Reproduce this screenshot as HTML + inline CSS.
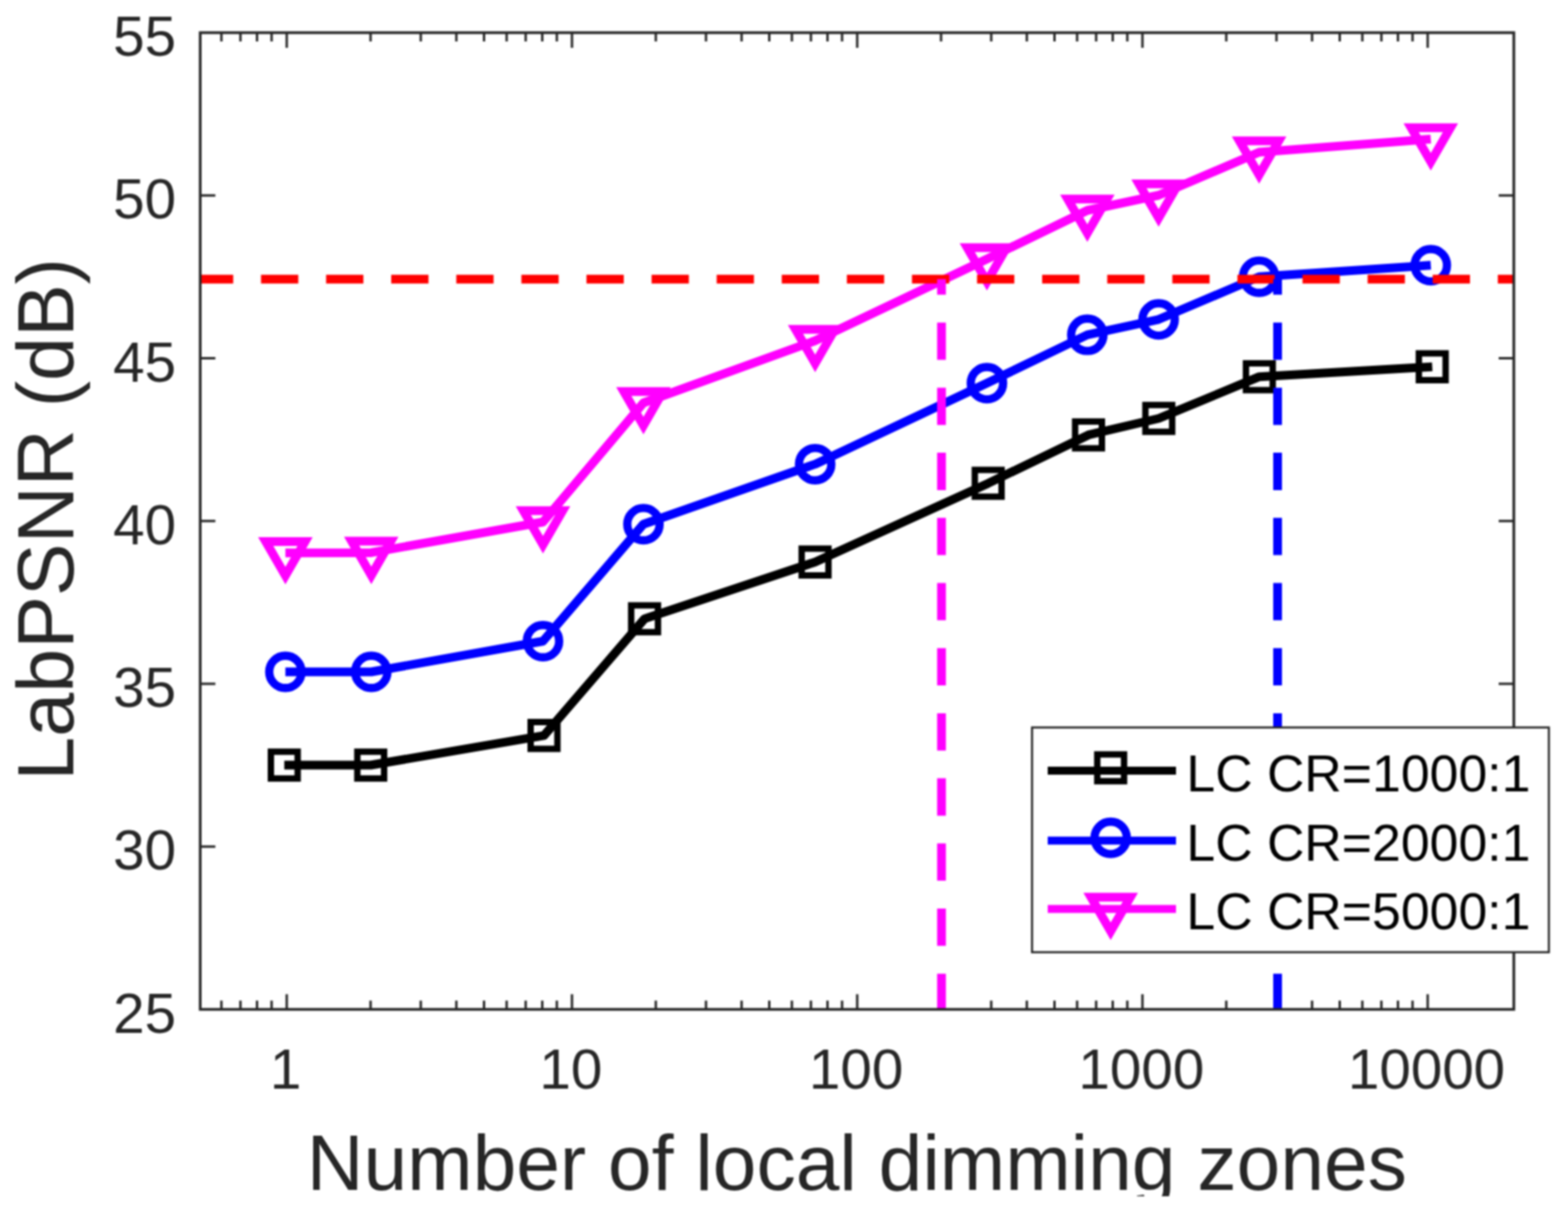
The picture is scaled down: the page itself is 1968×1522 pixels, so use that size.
<!DOCTYPE html>
<html><head><meta charset="utf-8"><title>LabPSNR vs local dimming zones</title>
<style>html,body{margin:0;padding:0;background:#fff;}body{width:1968px;height:1522px;overflow:hidden;}svg{display:block;filter:blur(0.8px);}</style>
</head><body>
<svg width="1968" height="1522" viewBox="0 0 1968 1522">
<rect x="0" y="0" width="1968" height="1522" fill="#ffffff"/>
<path d="M359.9 1266.5V1247.5M359.9 41V60M717.9 1266.5V1247.5M717.9 41V60M1075.9 1266.5V1247.5M1075.9 41V60M1433.9 1266.5V1247.5M1433.9 41V60M1791.9 1266.5V1247.5M1791.9 41V60M277.9 1266.5V1255.5M277.9 41V52M301.8 1266.5V1255.5M301.8 41V52M322.6 1266.5V1255.5M322.6 41V52M340.9 1266.5V1255.5M340.9 41V52M465.1 1266.5V1255.5M465.1 41V52M528.1 1266.5V1255.5M528.1 41V52M572.8 1266.5V1255.5M572.8 41V52M607.5 1266.5V1255.5M607.5 41V52M635.9 1266.5V1255.5M635.9 41V52M659.8 1266.5V1255.5M659.8 41V52M680.6 1266.5V1255.5M680.6 41V52M698.9 1266.5V1255.5M698.9 41V52M823.1 1266.5V1255.5M823.1 41V52M886.1 1266.5V1255.5M886.1 41V52M930.8 1266.5V1255.5M930.8 41V52M965.5 1266.5V1255.5M965.5 41V52M993.9 1266.5V1255.5M993.9 41V52M1017.8 1266.5V1255.5M1017.8 41V52M1038.6 1266.5V1255.5M1038.6 41V52M1056.9 1266.5V1255.5M1056.9 41V52M1181.1 1266.5V1255.5M1181.1 41V52M1244.1 1266.5V1255.5M1244.1 41V52M1288.8 1266.5V1255.5M1288.8 41V52M1323.5 1266.5V1255.5M1323.5 41V52M1351.9 1266.5V1255.5M1351.9 41V52M1375.8 1266.5V1255.5M1375.8 41V52M1396.6 1266.5V1255.5M1396.6 41V52M1414.9 1266.5V1255.5M1414.9 41V52M1539.1 1266.5V1255.5M1539.1 41V52M1602.1 1266.5V1255.5M1602.1 41V52M1646.8 1266.5V1255.5M1646.8 41V52M1681.5 1266.5V1255.5M1681.5 41V52M1709.9 1266.5V1255.5M1709.9 41V52M1733.8 1266.5V1255.5M1733.8 41V52M1754.6 1266.5V1255.5M1754.6 41V52M1772.9 1266.5V1255.5M1772.9 41V52M251.3 1062.2H270.3M1900 1062.2H1881M251.3 858.0H270.3M1900 858.0H1881M251.3 653.8H270.3M1900 653.8H1881M251.3 449.5H270.3M1900 449.5H1881M251.3 245.2H270.3M1900 245.2H1881" stroke="#262626" stroke-width="3" fill="none"/>
<polyline points="356.8,960.0 465.3,960.0 682.8,922.8 809.0,776.4 1023.0,705.2 1240.3,606.4 1366.2,545.7 1454.4,525.0 1580.6,472.7 1797.6,460.2" fill="none" stroke="#000000" stroke-width="11" stroke-linejoin="round" stroke-linecap="butt"/>
<g fill="none" stroke="#000000"><rect x="340.0" y="943.2" width="33.6" height="33.6" stroke-width="8"/><rect x="448.5" y="943.2" width="33.6" height="33.6" stroke-width="8"/><rect x="666.0" y="906.0" width="33.6" height="33.6" stroke-width="8"/><rect x="792.2" y="759.6" width="33.6" height="33.6" stroke-width="8"/><rect x="1006.2" y="688.4" width="33.6" height="33.6" stroke-width="8"/><rect x="1223.5" y="589.6" width="33.6" height="33.6" stroke-width="8"/><rect x="1349.4" y="528.9" width="33.6" height="33.6" stroke-width="8"/><rect x="1437.6" y="508.2" width="33.6" height="33.6" stroke-width="8"/><rect x="1563.8" y="455.9" width="33.6" height="33.6" stroke-width="8"/><rect x="1780.8" y="443.4" width="33.6" height="33.6" stroke-width="8"/></g>
<polyline points="358.2,843.0 466.0,843.0 681.5,804.5 807.6,657.7 1023.1,582.4 1238.7,480.8 1364.7,420.1 1454.2,400.8 1580.3,347.2 1795.8,332.8" fill="none" stroke="#0000ff" stroke-width="11" stroke-linejoin="round" stroke-linecap="butt"/>
<g fill="none" stroke="#0000ff"><circle cx="358.2" cy="843.0" r="20.3" stroke-width="10.4"/><circle cx="466.0" cy="843.0" r="20.3" stroke-width="10.4"/><circle cx="681.5" cy="804.5" r="20.3" stroke-width="10.4"/><circle cx="807.6" cy="657.7" r="20.3" stroke-width="10.4"/><circle cx="1023.1" cy="582.4" r="20.3" stroke-width="10.4"/><circle cx="1238.7" cy="480.8" r="20.3" stroke-width="10.4"/><circle cx="1364.7" cy="420.1" r="20.3" stroke-width="10.4"/><circle cx="1454.2" cy="400.8" r="20.3" stroke-width="10.4"/><circle cx="1580.3" cy="347.2" r="20.3" stroke-width="10.4"/><circle cx="1795.8" cy="332.8" r="20.3" stroke-width="10.4"/></g>
<polyline points="358.2,693.7 466.0,693.4 681.5,655.0 807.6,505.5 1023.1,427.5 1238.7,325.0 1364.7,264.0 1454.2,245.0 1580.3,191.0 1795.8,174.5" fill="none" stroke="#ff00ff" stroke-width="11" stroke-linejoin="round" stroke-linecap="butt"/>
<g fill="none" stroke="#ff00ff"><path d="M333.5 679.5H382.9L358.2 722.2Z" stroke-width="11" stroke-linejoin="miter" stroke-miterlimit="10"/><path d="M441.3 679.1H490.6L466.0 721.9Z" stroke-width="11" stroke-linejoin="miter" stroke-miterlimit="10"/><path d="M656.8 640.8H706.2L681.5 683.5Z" stroke-width="11" stroke-linejoin="miter" stroke-miterlimit="10"/><path d="M782.9 491.2H832.3L807.6 534.0Z" stroke-width="11" stroke-linejoin="miter" stroke-miterlimit="10"/><path d="M998.4 413.2H1047.8L1023.1 456.0Z" stroke-width="11" stroke-linejoin="miter" stroke-miterlimit="10"/><path d="M1214.0 310.8H1263.3L1238.7 353.5Z" stroke-width="11" stroke-linejoin="miter" stroke-miterlimit="10"/><path d="M1340.1 249.8H1389.4L1364.7 292.5Z" stroke-width="11" stroke-linejoin="miter" stroke-miterlimit="10"/><path d="M1429.5 230.8H1478.9L1454.2 273.5Z" stroke-width="11" stroke-linejoin="miter" stroke-miterlimit="10"/><path d="M1555.6 176.8H1605.0L1580.3 219.5Z" stroke-width="11" stroke-linejoin="miter" stroke-miterlimit="10"/><path d="M1771.1 160.2H1820.5L1795.8 203.0Z" stroke-width="11" stroke-linejoin="miter" stroke-miterlimit="10"/></g>
<line x1="245.9" y1="350.3" x2="1900" y2="350.3" stroke="#ff0000" stroke-width="11" stroke-dasharray="46.8 34.9"/>
<rect x="211.3" y="342.3" width="40" height="16" fill="#ffffff"/>
<line x1="1181.7" y1="1266.5" x2="1181.7" y2="350.3" stroke="#ff00ff" stroke-width="11" stroke-dasharray="46.8 34.9" stroke-dashoffset="2"/>
<line x1="1603.5" y1="1266.5" x2="1603.5" y2="350.3" stroke="#0000ff" stroke-width="11" stroke-dasharray="46.8 34.9" stroke-dashoffset="2"/>
<rect x="251.3" y="41" width="1648.7" height="1225.5" fill="none" stroke="#262626" stroke-width="3.4"/>
<text x="221" y="1295.5" font-family="Liberation Sans, Arial, sans-serif" font-size="71" fill="#262626" text-anchor="end">25</text>
<text x="221" y="1091.2" font-family="Liberation Sans, Arial, sans-serif" font-size="71" fill="#262626" text-anchor="end">30</text>
<text x="221" y="887.0" font-family="Liberation Sans, Arial, sans-serif" font-size="71" fill="#262626" text-anchor="end">35</text>
<text x="221" y="682.8" font-family="Liberation Sans, Arial, sans-serif" font-size="71" fill="#262626" text-anchor="end">40</text>
<text x="221" y="478.5" font-family="Liberation Sans, Arial, sans-serif" font-size="71" fill="#262626" text-anchor="end">45</text>
<text x="221" y="274.2" font-family="Liberation Sans, Arial, sans-serif" font-size="71" fill="#262626" text-anchor="end">50</text>
<text x="221" y="70.0" font-family="Liberation Sans, Arial, sans-serif" font-size="71" fill="#262626" text-anchor="end">55</text>
<text x="358.4" y="1366" font-family="Liberation Sans, Arial, sans-serif" font-size="71" fill="#262626" text-anchor="middle">1</text>
<text x="716.4" y="1366" font-family="Liberation Sans, Arial, sans-serif" font-size="71" fill="#262626" text-anchor="middle">10</text>
<text x="1074.4" y="1366" font-family="Liberation Sans, Arial, sans-serif" font-size="71" fill="#262626" text-anchor="middle">100</text>
<text x="1432.4" y="1366" font-family="Liberation Sans, Arial, sans-serif" font-size="71" fill="#262626" text-anchor="middle">1000</text>
<text x="1790.4" y="1366" font-family="Liberation Sans, Arial, sans-serif" font-size="71" fill="#262626" text-anchor="middle">10000</text>
<text x="385" y="1492.5" font-family="Liberation Sans, Arial, sans-serif" font-size="98.6" fill="#262626">Number of local dimming zones</text>
<text transform="translate(92 979.6) rotate(-90)" x="0" y="0" font-family="Liberation Sans, Arial, sans-serif" font-size="99.2" fill="#262626">LabPSNR (dB)</text>
<rect x="0" y="1501" width="1968" height="21" fill="#ffffff"/>
<rect x="1295.3" y="912.8" width="648.7" height="282.0" fill="#ffffff" stroke="#262626" stroke-width="2.6"/>
<line x1="1315" y1="967.0" x2="1476" y2="967.0" stroke="#000000" stroke-width="10"/>
<g fill="none" stroke="#000000"><rect x="1377.2" y="946.6" width="33.6" height="33.6" stroke-width="8"/></g>
<text x="1489" y="992.5" font-family="Liberation Sans, Arial, sans-serif" font-size="65" fill="#000000">LC CR=1000:1</text>
<line x1="1315" y1="1054.8" x2="1476" y2="1054.8" stroke="#0000ff" stroke-width="10"/>
<g fill="none" stroke="#0000ff"><circle cx="1394.0" cy="1051.3" r="20.3" stroke-width="10.4"/></g>
<text x="1489" y="1080.3" font-family="Liberation Sans, Arial, sans-serif" font-size="65" fill="#000000">LC CR=2000:1</text>
<line x1="1315" y1="1140.4" x2="1476" y2="1140.4" stroke="#ff00ff" stroke-width="10"/>
<g fill="none" stroke="#ff00ff"><path d="M1369.3 1125.7H1418.7L1394.0 1168.4Z" stroke-width="11" stroke-linejoin="miter" stroke-miterlimit="10"/></g>
<text x="1489" y="1165.9" font-family="Liberation Sans, Arial, sans-serif" font-size="65" fill="#000000">LC CR=5000:1</text>
</svg>
</body></html>
